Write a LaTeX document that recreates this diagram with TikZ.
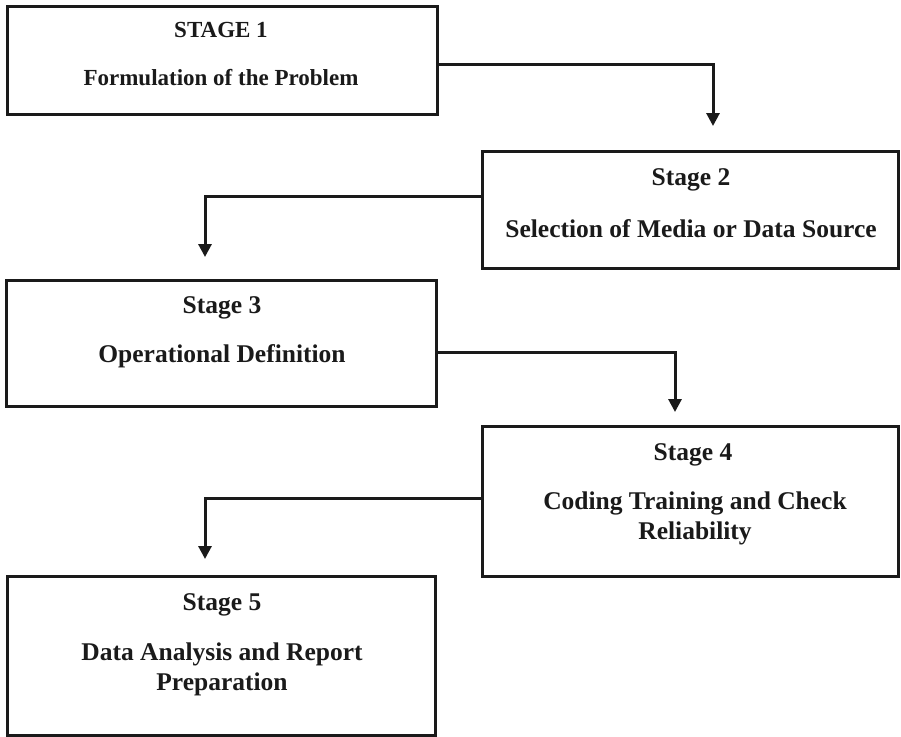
\documentclass[tikz,border=0pt]{standalone}
\usepackage{fontspec}
\setmainfont{Liberation Serif}
\usetikzlibrary{arrows.meta,calc}
\definecolor{ink}{HTML}{1A1A1A}
\tikzset{
  stagebox/.style={draw=ink, line width=3pt, rectangle, anchor=north west, outer sep=0pt, inner sep=0pt},
  txt/.style={text=ink, font=\bfseries\fontsize{25.5}{30}\selectfont, align=center, inner sep=0pt},
  txtsmall/.style={txt, font=\bfseries\fontsize{23}{30}\selectfont},
  arr/.style={draw=ink, line width=3pt, -{Triangle[length=13pt,width=13pt]}}
}
\begin{document}
\begin{tikzpicture}[x=1pt,y=-1pt]
\useasboundingbox[fill=white] (0,0) rectangle (901,736);
\node[stagebox, minimum width=430pt, minimum height=108pt] (b1) at (7,6) {};
\node[stagebox, minimum width=416pt, minimum height=117pt] (b2) at (482,151) {};
\node[stagebox, minimum width=430pt, minimum height=126pt] (b3) at (6,280) {};
\node[stagebox, minimum width=416pt, minimum height=150pt] (b4) at (482,426) {};
\node[stagebox, minimum width=428pt, minimum height=159pt] (b5) at (7,576) {};

\node[txtsmall] (t1) at (221,30) {STAGE 1};
\node[txtsmall] (d1) at (221,78) {Formulation of the Problem};
\node[txt] (t2) at (691,180) {Stage 2};
\node[txt] (d2) at (691,229) {Selection of Media or Data Source};
\node[txt] (t3) at (222,308) {Stage 3};
\node[txt] (d3) at (222,356) {Operational Definition};
\node[txt] (t4) at (693,455) {Stage 4};
\node[txt] (d4) at (695,518) {Coding Training and Check\\Reliability};
\node[txt] (t5) at (222,605) {Stage 5};
\node[txt] (d5) at (222,669) {Data Analysis and Report\\Preparation};

\draw[arr] ([yshift=-4pt]b1.east) -| ([xshift=23pt,yshift=25pt]b2.north);
\draw[arr] ([yshift=13.5pt]b2.west) -| ([xshift=-16pt,yshift=23pt]b3.north);
\draw[arr] ([yshift=-9pt]b3.east) -| ([xshift=-15pt,yshift=14pt]b4.north);
\draw[arr] ([yshift=3pt]b4.west) -| ([xshift=-16pt,yshift=17pt]b5.north);
\end{tikzpicture}
\end{document}
